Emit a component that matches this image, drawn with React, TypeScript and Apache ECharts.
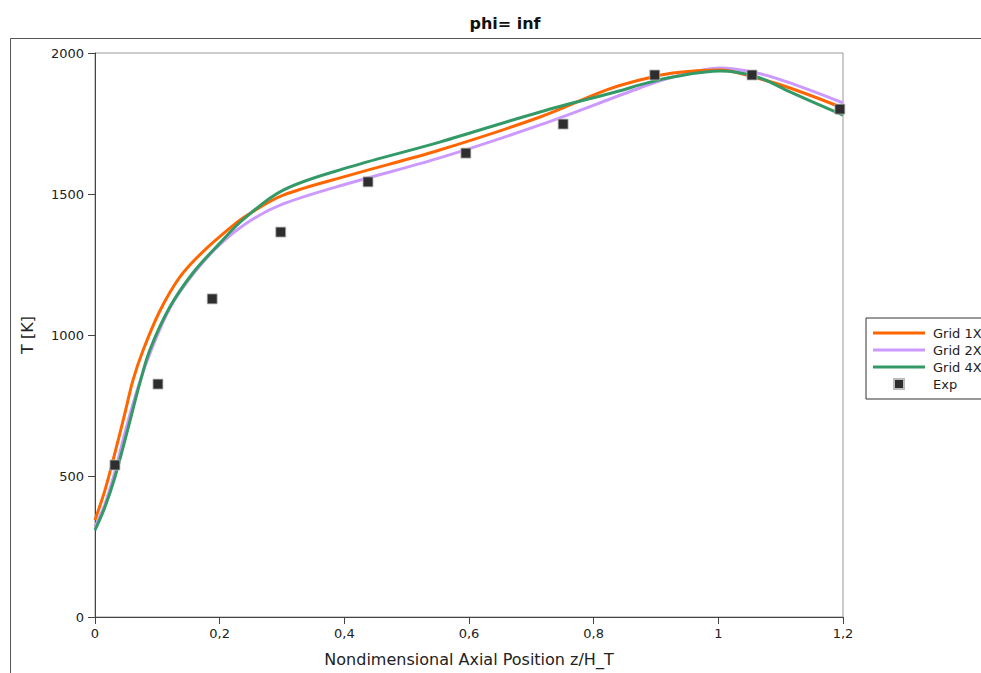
import React, { useEffect, useRef } from "react";
import * as echarts from "echarts";

// Grid 1X
const grid1XPos = [0, 0.016, 0.032, 0.048, 0.061, 0.077, 0.104, 0.136, 0.173, 0.228, 0.249, 0.302, 0.409, 0.553, 0.714, 0.821, 0.874, 0.927, 1.003, 1.062, 1.115, 1.2];
const grid1XT = [344, 450, 582, 723, 840, 945, 1085, 1205, 1295, 1400, 1432, 1496, 1567, 1656, 1773, 1869, 1904, 1929, 1940, 1911, 1876, 1805];

// Grid 2X
const grid2XPos = [0, 0.016, 0.032, 0.05, 0.072, 0.09, 0.12, 0.157, 0.2, 0.249, 0.302, 0.409, 0.553, 0.714, 0.874, 0.927, 1.003, 1.062, 1.115, 1.2];
const grid2XT = [320, 400, 515, 670, 835, 945, 1095, 1215, 1320, 1405, 1465, 1539, 1628, 1745, 1876, 1915, 1947, 1929, 1894, 1823];

// Grid 4X
const grid4XPos = [0, 0.016, 0.032, 0.051, 0.072, 0.088, 0.12, 0.157, 0.2, 0.237, 0.302, 0.409, 0.553, 0.714, 0.847, 0.874, 0.927, 1.003, 1.062, 1.115, 1.2];
const grid4XT = [308, 390, 496, 652, 830, 947, 1099, 1220, 1325, 1408, 1514, 1596, 1684, 1791, 1869, 1887, 1915, 1936, 1915, 1862, 1780];

// Experiment
const expPos = [0.032, 0.101, 0.188, 0.298, 0.438, 0.595, 0.751, 0.898, 1.054, 1.195];
const expT = [539, 826, 1128, 1365, 1543, 1645, 1748, 1922, 1922, 1801];

const seriesNames = ["Grid 1X", "Grid 2X", "Grid 4X", "Exp"];
const seriesColors = ["#ff6600", "#cc99ff", "#339966", "#2e2e2e"];

const FONT = "DejaVu Sans";

const zip = (xs: number[], ys: number[]) => xs.map((x, i) => [x, ys[i]]);

export default function App() {
  const ref = useRef<HTMLDivElement>(null);
  useEffect(() => {
    document.body.style.margin = "0";
    const chart = echarts.init(ref.current!, null, { renderer: "svg" });
    const lineSeries = [
      [grid1XPos, grid1XT],
      [grid2XPos, grid2XT],
      [grid4XPos, grid4XT],
    ].map(([xs, ys], i) => ({
      name: seriesNames[i],
      type: "line",
      data: zip(xs, ys),
      smooth: 0.35,
      symbol: "none",
      showSymbol: false,
      color: seriesColors[i],
      lineStyle: { width: 3, color: seriesColors[i] },
      z: 2 + (i === 1 ? 0 : i === 0 ? 1 : 2),
    }));
    chart.setOption({
      animation: false,
      backgroundColor: "#ffffff",
      title: {
        text: "phi= inf",
        left: 500,
        top: 10,
        textAlign: "center",
        textStyle: { fontFamily: FONT, fontSize: 16, fontWeight: "bold", color: "#111" },
      },
      graphic: [
        {
          type: "polyline",
          shape: { points: [[10.5, 673], [10.5, 38.5], [981, 38.5]] },
          style: { stroke: "#555", lineWidth: 1, fill: "none" },
          silent: true,
        },
      ],
      grid: {
        left: 95,
        top: 53,
        width: 748,
        height: 564,
        show: true,
        borderColor: "#999",
        borderWidth: 1,
      },
      legend: {
        orient: "vertical",
        left: 866,
        top: 318,
        itemWidth: 52,
        itemHeight: 10,
        itemGap: 3,
        padding: [8, 20, 8, 7],
        borderColor: "#333",
        borderWidth: 1,
        textStyle: { fontFamily: FONT, fontSize: 13, color: "#222", lineHeight: 14, padding: [0, 0, 0, 3] },
        data: [
          { name: seriesNames[0], icon: "path://M0,0h52v3h-52z" },
          { name: seriesNames[1], icon: "path://M0,0h52v3h-52z" },
          { name: seriesNames[2], icon: "path://M0,0h52v3h-52z" },
          { name: seriesNames[3], icon: "path://M0,0h10v10h-10z", itemStyle: { opacity: 1 } },
        ],
      },
      xAxis: {
        type: "value",
        min: 0,
        max: 1.2,
        interval: 0.2,
        name: "Nondimensional Axial Position z/H_T",
        nameLocation: "middle",
        nameGap: 34,
        nameTextStyle: { fontFamily: FONT, fontSize: 16, color: "#222" },
        axisLine: { show: true, lineStyle: { color: "#444", width: 1 } },
        axisTick: { show: true, length: 7, lineStyle: { color: "#444" } },
        splitLine: { show: false },
        axisLabel: {
          margin: 10,
          fontFamily: FONT,
          fontSize: 13,
          color: "#222",
          formatter: (v: number) => parseFloat(v.toFixed(1)).toString().replace(".", ","),
        },
      },
      yAxis: {
        type: "value",
        min: 0,
        max: 2000,
        interval: 500,
        name: "T [K]",
        nameLocation: "middle",
        nameGap: 60,
        nameTextStyle: { fontFamily: FONT, fontSize: 16, color: "#222" },
        axisLine: { show: true, lineStyle: { color: "#444", width: 1 } },
        axisTick: { show: true, length: 7, lineStyle: { color: "#444" } },
        splitLine: { show: false },
        axisLabel: {
          margin: 11,
          fontFamily: FONT,
          fontSize: 13,
          color: "#222",
          formatter: (v: number) => String(v),
        },
      },
      series: [
        ...lineSeries,
        {
          name: seriesNames[3],
          type: "scatter",
          data: zip(expPos, expT),
          symbol: "rect",
          symbolSize: 10,
          color: seriesColors[3],
          itemStyle: { color: seriesColors[3], borderColor: "#bbbbbb", borderWidth: 0.8, opacity: 1 },
          z: 10,
        },
      ],
    });
    return () => chart.dispose();
  }, []);
  return <div ref={ref} style={{ width: 981, height: 673 }} />;
}
